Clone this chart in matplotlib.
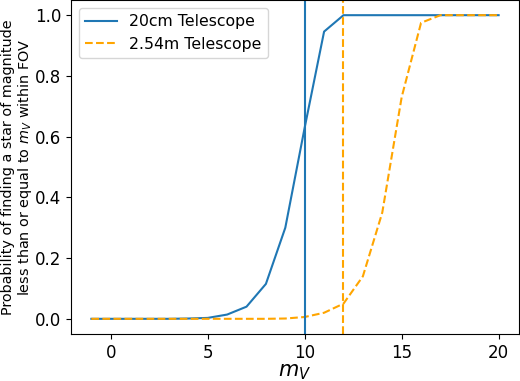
import matplotlib
matplotlib.use("Agg")
import matplotlib.pyplot as plt

mag = list(range(-1, 21))
p_20cm = [0, 0, 0, 0, 0, 0.001, 0.003, 0.014, 0.04, 0.115, 0.30, 0.63, 0.946,
          1, 1, 1, 1, 1, 1, 1, 1, 1]
p_254m = [0, 0, 0, 0, 0, 0, 0, 0, 0, 0, 0.001, 0.006, 0.02, 0.05, 0.14,
          0.35, 0.73, 0.975, 1, 1, 1, 1]
limit_20cm = 10
limit_254m = 12

plt.rcParams['font.size'] = 12
fig = plt.figure(figsize=(5.2, 3.81), dpi=100)
ax = fig.add_axes([71/520, 47/381, 448/520, 334/381])
ax.plot(mag, p_20cm, color='#1f77b4', label='20cm Telescope')
ax.plot(mag, p_254m, color='orange', linestyle='--', label='2.54m Telescope')
ax.axvline(limit_20cm, color='#1f77b4')
ax.axvline(limit_254m, color='orange', linestyle='--')
ax.tick_params(labelsize=12)
ax.set_xlabel('$m_V$', fontsize=15)
ax.set_ylabel('Probability of finding a star of magnitude\nless than or equal to $m_V$ within FOV',
              fontsize=10.4, linespacing=1.1)
ax.xaxis.set_label_coords(0.5, -0.085)
ax.yaxis.set_label_coords(-0.083, 0.5)
ax.legend(loc='upper left', fontsize=11.3)
fig.savefig('out.png', dpi=100)
